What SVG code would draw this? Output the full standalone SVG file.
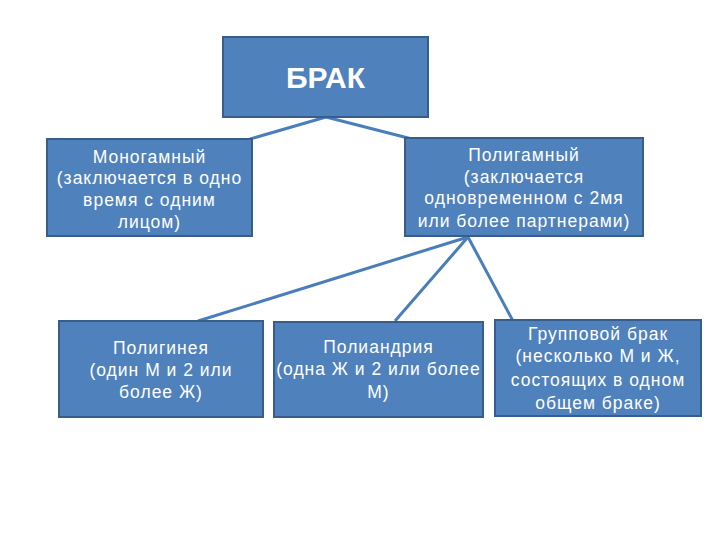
<svg xmlns="http://www.w3.org/2000/svg" width="720" height="540" viewBox="0 0 720 540">
<style>
.box{fill:#4F81BD;stroke:#385D8A;stroke-width:2}
.t{fill:#FFFFFF;font-family:"Liberation Sans",Arial,sans-serif;font-size:17.5px;letter-spacing:1px;text-anchor:middle}
.title{fill:#FFFFFF;font-family:"Liberation Sans",Arial,sans-serif;font-size:30px;font-weight:bold;text-anchor:middle}
.c{stroke:#4A7EBB;stroke-width:3;fill:none}
</style>
<rect width="720" height="540" fill="#FFFFFF"/>
<g id="connectors">
<line class="c" x1="326" y1="117" x2="250" y2="139"/>
<line class="c" x1="326" y1="117" x2="412" y2="139"/>
<line class="c" x1="468" y1="237" x2="198" y2="321"/>
<line class="c" x1="468" y1="237" x2="395" y2="321"/>
<line class="c" x1="468" y1="237" x2="513" y2="321"/>
</g>
<g id="brak">
<rect class="box" x="223" y="37" width="205" height="80"/>
<text class="title" x="325.5" y="88">БРАК</text>
</g>
<g id="monogamny">
<rect class="box" x="47" y="139" width="205" height="97"/>
<text class="t" x="149.5" y="163">Моногамный</text>
<text class="t" x="149.5" y="184">(заключается в одно</text>
<text class="t" x="149.5" y="206">время с одним</text>
<text class="t" x="149.5" y="228">лицом)</text>
</g>
<g id="poligamny">
<rect class="box" x="405" y="138" width="238" height="98"/>
<text class="t" x="524" y="161">Полигамный</text>
<text class="t" x="524" y="183">(заключается</text>
<text class="t" x="524" y="204">одновременном с 2мя</text>
<text class="t" x="524" y="227">или более партнерами)</text>
</g>
<g id="poliginiya">
<rect class="box" x="59" y="321" width="204" height="96"/>
<text class="t" x="161" y="354">Полигинея</text>
<text class="t" x="161" y="376">(один М и 2 или</text>
<text class="t" x="161" y="398">более Ж)</text>
</g>
<g id="poliandriya">
<rect class="box" x="274" y="322" width="209" height="95"/>
<text class="t" x="378.5" y="353">Полиандрия</text>
<text class="t" x="378.5" y="375">(одна Ж и 2 или более</text>
<text class="t" x="378.5" y="398">М)</text>
</g>
<g id="gruppovoy">
<rect class="box" x="495" y="320" width="206" height="96"/>
<text class="t" x="598" y="340">Групповой брак</text>
<text class="t" x="598" y="362">(несколько М и Ж,</text>
<text class="t" x="598" y="386">состоящих в одном</text>
<text class="t" x="598" y="409">общем браке)</text>
</g>
</svg>
